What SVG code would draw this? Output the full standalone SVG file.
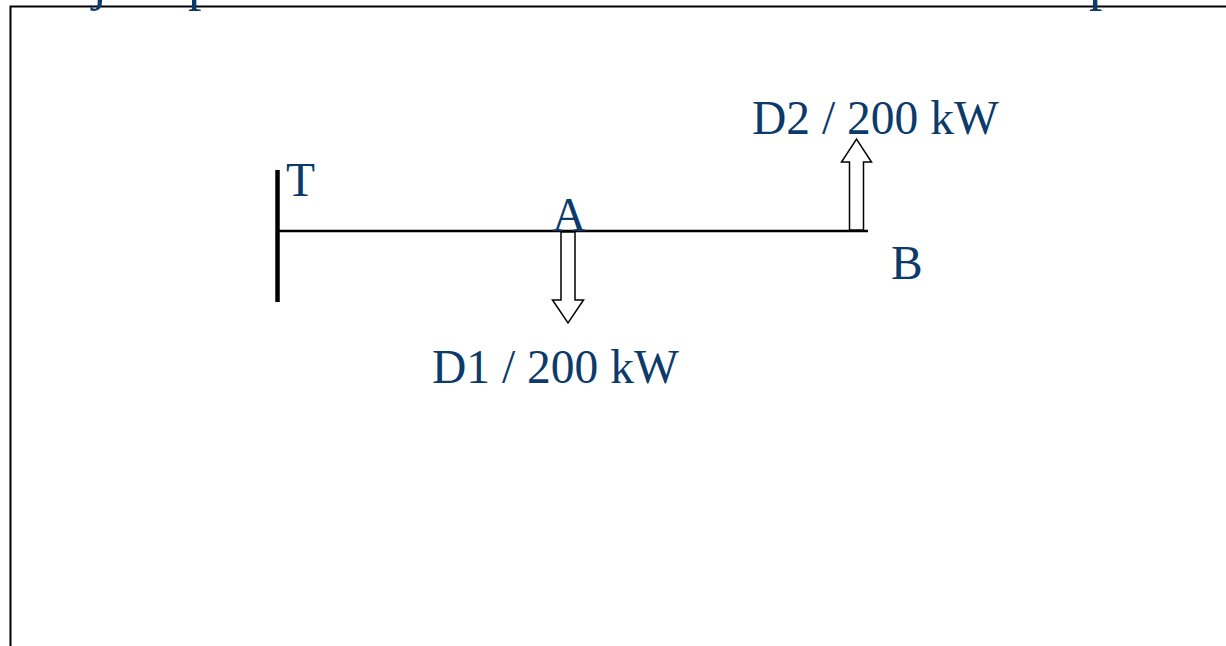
<svg xmlns="http://www.w3.org/2000/svg" width="1226" height="646" viewBox="0 0 1226 646">
<style>
.lbl{font-family:"Liberation Serif","Times New Roman",serif;font-size:47.5px;fill:#0b3a6b}
.ttl{font-family:"Liberation Serif","Times New Roman",serif;font-size:54px;fill:#0b3a6b}
.arrow{fill:#ffffff;stroke:#000000;stroke-width:1.5;stroke-linejoin:miter}
</style>
<rect x="0" y="0" width="1226" height="646" fill="#ffffff"/>
<g id="frame">
<path d="M10.5 646 L10.5 6.5 L1226 6.5" fill="none" stroke="#000000" stroke-width="2"/>
</g>
<g id="title-fragments">
<text class="ttl" x="92" y="-1">j</text>
<text class="ttl" x="188" y="-1">p</text>
<text class="ttl" x="1089" y="-1">p</text>
</g>
<g id="connectors">
<line x1="278" y1="231" x2="868" y2="231" stroke="#000000" stroke-width="2.4"/>
</g>
<g id="node-T">
<line x1="277.5" y1="170" x2="277.5" y2="302" stroke="#000000" stroke-width="4.5"/>
<text class="lbl" x="286" y="196">T</text>
</g>
<g id="node-A">
<text class="lbl" x="552" y="231">A</text>
<path class="arrow" d="M561 232 L575 232 L575 300 L583.5 300 L568 323 L552.5 300 L561 300 Z"/>
<text class="lbl" x="432" y="383">D1 / 200 kW</text>
</g>
<g id="node-B">
<text class="lbl" x="891" y="279">B</text>
<path class="arrow" d="M849.5 230 L863.5 230 L863.5 162 L871.5 162 L856.5 139 L841.5 162 L849.5 162 Z"/>
<text class="lbl" x="752" y="134">D2 / 200 kW</text>
</g>
</svg>
